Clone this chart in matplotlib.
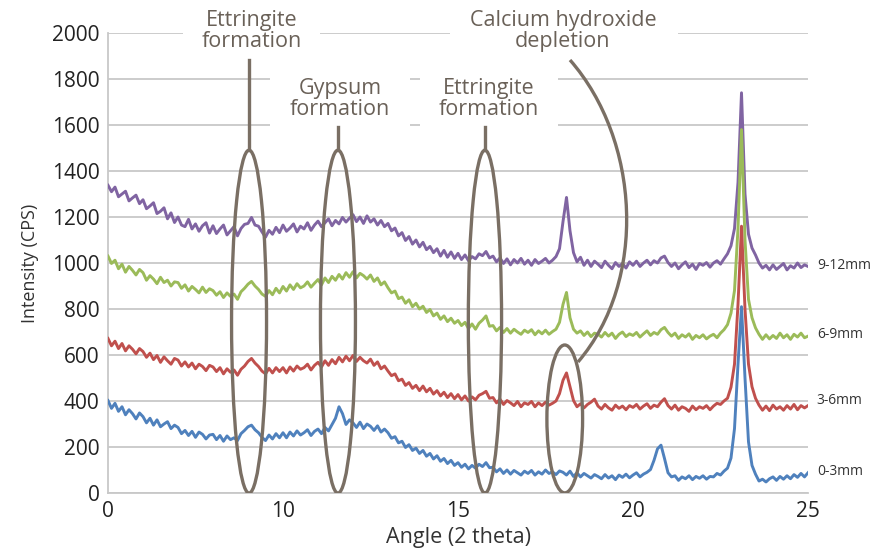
import numpy as np
import matplotlib
matplotlib.use("Agg")
import matplotlib.pyplot as plt
from matplotlib.patches import Ellipse, Rectangle, PathPatch
from matplotlib.path import Path

# ---------------- data ----------------
angle = np.round(np.arange(5.0, 25.001, 0.1), 1)  # 2-theta, 201 points

i_9_12 = [
    1338, 1310, 1330, 1288, 1300, 1312, 1270, 1283, 1295, 1258,
    1275, 1236, 1248, 1262, 1215, 1225, 1240, 1192, 1218, 1176,
    1200, 1165, 1158, 1190, 1148, 1170, 1138, 1162, 1175, 1130,
    1162, 1128, 1148, 1165, 1122, 1140, 1158, 1118, 1150, 1168,
    1172, 1198, 1165, 1160, 1135, 1112, 1142, 1125, 1155, 1132,
    1165, 1138, 1152, 1170, 1135, 1160, 1148, 1175, 1142, 1165,
    1182, 1158, 1175, 1192, 1162, 1185, 1170, 1198, 1178, 1195,
    1210, 1180, 1200, 1172, 1205, 1178, 1192, 1165, 1185, 1158,
    1172, 1140, 1152, 1118, 1132, 1098, 1115, 1082, 1100, 1070,
    1090, 1058, 1072, 1045, 1062, 1030, 1055, 1025, 1048, 1020,
    1042, 1015, 1035, 1010, 1028, 1018, 1040, 1032, 1050, 1022,
    1030, 1005, 1022, 998, 1018, 992, 1015, 1000, 1020, 995,
    1012, 990, 1015, 998, 1008, 1020, 1000, 1012, 1028, 1062,
    1180, 1285, 1140, 1045, 1005, 1025, 990, 1012, 985, 1008,
    995, 980, 1008, 990, 975, 1002, 985, 998, 978, 1005,
    990, 1008, 985, 1000, 1012, 992, 1010, 1000, 1022, 1030,
    1002, 985, 1000, 975, 992, 1005, 980, 995, 972, 998,
    990, 1002, 982, 1000, 1010, 995, 1018, 1040, 1075, 1150,
    1350, 1740, 1300, 1125, 1065, 1035, 1000, 978, 990, 970,
    992, 972, 985, 998, 970, 988, 978, 1000, 980, 992,
    985,
]

i_6_9 = [
    1030, 998, 1012, 975, 995, 960, 985, 968, 948, 972,
    958, 925, 945, 930, 910, 938, 915, 925, 900, 918,
    915, 890, 905, 878, 898, 885, 870, 895, 872, 888,
    880, 860, 875, 850, 870, 855, 865, 842, 875, 890,
    908, 920, 900, 885, 865, 855, 880, 862, 890, 870,
    898, 878, 905, 885, 910, 892, 900, 918, 895, 912,
    928, 905, 935, 915, 942, 925, 950, 930, 958, 938,
    962, 935, 955, 945, 930, 948, 920, 935, 905, 918,
    892, 870, 878, 845, 852, 825, 840, 810, 825, 800,
    812, 785, 798, 770, 782, 755, 770, 745, 760, 738,
    750, 728, 742, 715, 735, 712, 738, 752, 770, 725,
    728, 705, 720, 698, 715, 695, 712, 700, 690, 708,
    698, 710, 688, 705, 692, 708, 690, 702, 712, 742,
    820, 872, 762, 712, 695, 705, 685, 700, 680, 695,
    690, 678, 698, 682, 695, 672, 690, 700, 680, 692,
    685, 698, 678, 692, 705, 685, 698, 690, 710, 720,
    698, 682, 695, 672, 688, 678, 692, 668, 685, 675,
    688, 670, 682, 690, 675, 695, 710, 732, 782, 880,
    1150, 1580, 1100, 842, 762, 718, 690, 668, 688, 670,
    685, 672, 695, 675, 688, 668, 690, 678, 695, 675,
    682,
]

i_3_6 = [
    672, 640, 660, 628, 650, 618, 640, 625, 605, 628,
    615, 590, 608, 580, 598, 568, 592, 575, 560, 585,
    578, 552, 570, 548, 565, 540, 560, 550, 532, 555,
    548, 528, 545, 518, 540, 525, 535, 512, 538, 552,
    572, 585, 565, 550, 530, 518, 542, 522, 545, 528,
    545, 522, 548, 530, 552, 538, 545, 560, 535, 555,
    568, 548, 575, 555, 580, 562, 590, 570, 595, 575,
    598, 572, 590, 575, 565, 582, 555, 570, 540, 552,
    530, 510, 518, 488, 495, 468, 480, 455, 468, 445,
    465, 440, 455, 430, 445, 422, 438, 415, 432, 410,
    428, 405, 422, 400, 418, 405, 425, 432, 442, 412,
    415, 392, 408, 385, 402, 392, 380, 398, 375, 392,
    385, 398, 375, 392, 380, 395, 382, 390, 400, 432,
    490, 522, 462, 402, 375, 388, 370, 385, 395, 408,
    378, 365, 385, 370, 360, 382, 368, 378, 362, 380,
    372, 385, 365, 378, 388, 368, 382, 375, 395, 410,
    380, 365, 382, 360, 375, 368, 355, 378, 362, 375,
    368, 380, 362, 378, 390, 385, 400, 412, 460, 560,
    820, 1160, 800, 560, 462, 412, 382, 360, 378, 358,
    382, 365, 375, 360, 380, 365, 385, 362, 380, 370,
    380,
]

i_0_3 = [
    402, 368, 390, 355, 375, 340, 362, 345, 322, 348,
    332, 305, 325, 295, 318, 288, 300, 310, 280, 295,
    285, 258, 272, 250, 268, 242, 265, 255, 235, 252,
    255, 232, 250, 225, 248, 232, 240, 228, 258, 272,
    288, 295, 275, 262, 242, 228, 252, 235, 258, 240,
    262, 240, 265, 248, 270, 252, 262, 275, 250, 268,
    278, 258, 285, 270, 298, 325, 375, 345, 298, 318,
    305, 285, 308, 280, 300, 290, 272, 292, 265, 278,
    262, 238, 245, 218, 225, 198, 210, 185, 195, 172,
    185, 160, 172, 148, 162, 138, 150, 128, 142, 120,
    132, 112, 125, 105, 120, 108, 125, 115, 132, 110,
    112, 92, 105, 85, 100, 82, 98, 88, 78, 95,
    85, 98, 78, 92, 82, 100, 85, 92, 80, 96,
    90, 78, 95, 72, 88, 70, 85, 75, 65, 80,
    72, 62, 80, 65, 75, 58, 78, 68, 82, 66,
    78, 88, 70, 82, 90, 102, 142, 192, 208, 150,
    88, 70, 75, 55, 70, 62, 75, 58, 72, 64,
    75, 60, 72, 70, 85, 78, 95, 108, 152, 280,
    560, 810, 500, 222, 120, 82, 52, 60, 48, 62,
    70, 55, 72, 60, 75, 62, 80, 68, 85, 70,
    88,
]

series_names = ["9-12mm", "6-9mm", "3-6mm", "0-3mm"]
series_values = [i_9_12, i_6_9, i_3_6, i_0_3]
series_colors = ["#8064A2", "#9BBB59", "#C0504D", "#4F81BD"]
series_label_y = [990, 690, 400, 95]

x_ticks = [5, 10, 15, 20, 25]
x_tick_labels = ["0", "10", "15", "20", "25"]
y_ticks = list(range(0, 2001, 200))

# ---------------- figure ----------------
plt.rcParams["font.family"] = ["Open Sans", "DejaVu Sans"]
fig = plt.figure(figsize=(8.73, 5.55), dpi=100)
ax = fig.add_axes([108 / 873, 1 - 493 / 555, 700 / 873, 460 / 555])

for vals, col in zip(series_values, series_colors):
    ax.plot(angle, vals, color=col, lw=2.1, zorder=3, solid_joinstyle="round")

ax.set_xlim(5, 25)
ax.set_ylim(0, 2000)
ax.set_xticks(x_ticks)
ax.set_xticklabels(x_tick_labels)
ax.set_yticks(y_ticks)
ax.tick_params(length=0, labelsize=15, colors="#222222", pad=6)
ax.grid(axis="y", color="#c8c8c8", lw=1.3)
ax.set_axisbelow(True)
for s in ["top", "right"]:
    ax.spines[s].set_visible(False)
ax.spines["left"].set_color("#c8c8c8")
ax.spines["bottom"].set_color("#c8c8c8")
ax.spines["left"].set_linewidth(1.3)
ax.spines["bottom"].set_linewidth(1.3)

ax.set_xlabel("Angle (2 theta)", fontsize=15.5, color="#333333", labelpad=3)
ax.set_ylabel("Intensity (CPS)", fontsize=13, color="#333333", labelpad=9)

for name, yv in zip(series_names, series_label_y):
    ax.text(25.25, yv, name, fontsize=10, color="#333333", va="center", ha="left", clip_on=False)

# annotation ellipses
ecol = "#7a6f64"
ellipses = [(9.03, 745, 1.0, 1491), (11.57, 745, 1.0, 1491), (15.77, 745, 0.95, 1491), (18.05, 322, 1.02, 643)]
for cx, cy, w, h in ellipses:
    ax.add_patch(Ellipse((cx, cy), w, h, fill=False, ec=ecol, lw=2.4, zorder=5))

# white boxes behind labels (cover gridlines)
boxes = [(7.14, 1904, 3.92, 200), (9.63, 1585, 4.0, 290), (13.91, 1585, 3.95, 290), (14.77, 1904, 6.52, 200)]
for bx, by, bw, bh in boxes:
    ax.add_patch(Rectangle((bx, by), bw, bh, fc="white", ec="none", zorder=1.5, clip_on=False))

# connector lines
ax.plot([9.03, 9.03], [1491, 1883], color=ecol, lw=2.4, zorder=5)
ax.plot([11.57, 11.57], [1491, 1591], color=ecol, lw=2.4, zorder=5)
ax.plot([15.77, 15.77], [1491, 1591], color=ecol, lw=2.4, zorder=5)

def px2d(px, py):
    return (5 + (px - 108) / 35.0, (493 - py) / 0.23)

curve = Path([px2d(570, 60), px2d(640, 140), px2d(648, 280), px2d(578, 362)],
             [Path.MOVETO, Path.CURVE4, Path.CURVE4, Path.CURVE4])
ax.add_patch(PathPatch(curve, fill=False, ec=ecol, lw=2.4, zorder=5))

tcol = "#6a6158"
tkw = dict(ha="center", va="center", fontsize=15.5, color=tcol, zorder=6, linespacing=1.0)
ax.text(9.1, 2009, "Ettringite\nformation", **tkw)
ax.text(11.63, 1713, "Gypsum\nformation", **tkw)
ax.text(15.89, 1713, "Ettringite\nformation", **tkw)
ax.text(18.0, 2009, "Calcium hydroxide\ndepletion", **tkw)

fig.savefig("out.png", dpi=100)
